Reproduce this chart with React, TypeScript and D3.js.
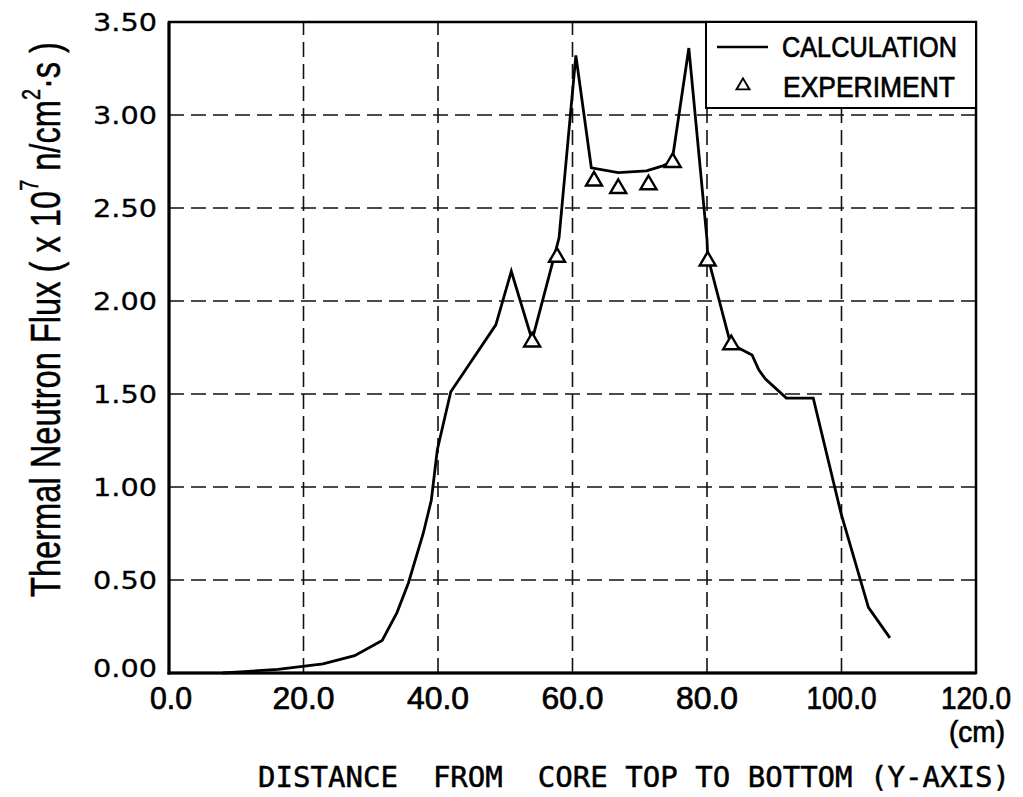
import React from "react";
import * as d3 from "d3";

const calcX = [8, 10, 16.2, 22.9, 27.6, 31.7, 33.9, 35.6, 37.8, 39.0, 39.9, 41.9, 48.6, 50.9, 54.0, 57.5, 58.0, 60.5, 62.8, 66.8, 71.0, 73.3, 74.8, 77.3, 80.0, 80.1, 83.5, 86.7, 87.7, 88.7, 91.8, 95.8, 99.95, 104.0, 107.2];
const calcY = [0.0, 0.005, 0.019, 0.049, 0.093, 0.175, 0.325, 0.484, 0.75, 0.928, 1.2, 1.512, 1.872, 2.16, 1.79, 2.27, 2.34, 3.32, 2.716, 2.69, 2.70, 2.725, 2.75, 3.36, 2.33, 2.24, 1.77, 1.71, 1.63, 1.58, 1.478, 1.478, 0.855, 0.353, 0.189];

const expX = [54.0, 57.7, 63.2, 66.8, 71.3, 74.9, 80.1, 83.6];
const expY = [1.785, 2.24, 2.65, 2.61, 2.63, 2.75, 2.22, 1.77];

const xTicks = [0, 20, 40, 60, 80, 100, 120];
const xTickLabels = ["0.0", "20.0", "40.0", "60.0", "80.0", "100.0", "120.0"];
const yTicks = [0, 0.5, 1.0, 1.5, 2.0, 2.5, 3.0, 3.5];
const yTickLabels = ["0.00", "0.50", "1.00", "1.50", "2.00", "2.50", "3.00", "3.50"];

const legendLabels = ["CALCULATION", "EXPERIMENT"];
const xTitle = "DISTANCE  FROM  CORE TOP TO BOTTOM (Y-AXIS)";

export default function App() {
  const W = 1023, H = 797;
  const x = d3.scaleLinear().domain([0, 120]).range([169, 976]);
  const y = d3.scaleLinear().domain([0, 3.5]).range([673, 22]);
  const pts: [number, number][] = calcX.map((v, i) => [v, calcY[i]]);
  const line = d3.line<[number, number]>().x(d => x(d[0])).y(d => y(d[1]));
  const tri = (cx: number, cy: number, s: number) => {
    const h = s * 0.85;
    return `M${cx},${cy - h * 0.6} L${cx + s / 2},${cy + h * 0.4} L${cx - s / 2},${cy + h * 0.4} Z`;
  };
  const xLabelWidth = (s: string) => (s.length === 3 ? 42 : s.length === 4 ? 62 : 70);
  const titleFont = "'Liberation Sans', Arial, sans-serif";
  const monoFont = "'DejaVu Sans Mono', 'Liberation Mono', monospace";
  const ts = { stroke: "#000", strokeWidth: 0.7 };

  return (
    <svg width={W} height={H} style={{ position: "absolute", left: 0, top: 0, background: "#fff" }}>
      <rect x={0} y={0} width={W} height={H} fill="#fff" />
      {/* grid */}
      {xTicks.slice(1, -1).map(t => (
        <line key={"gx" + t} x1={x(t)} x2={x(t)} y1={y(0)} y2={y(3.5)} stroke="#111" strokeWidth={1.6} strokeDasharray="15 7" />
      ))}
      {yTicks.slice(1, -1).map(t => (
        <line key={"gy" + t} x1={x(0)} x2={x(120)} y1={y(t)} y2={y(t)} stroke="#111" strokeWidth={1.6} strokeDasharray="15 7" />
      ))}
      {/* frame */}
      <rect x={x(0)} y={y(3.5)} width={x(120) - x(0)} height={y(0) - y(3.5)} fill="none" stroke="#000" strokeWidth={2.5} />
      <line x1={x(0)} x2={x(0)} y1={y(0) + 1.5} y2={y(3.5)} stroke="#000" strokeWidth={3} />
      <line x1={x(0) - 1.5} x2={x(120)} y1={y(0)} y2={y(0)} stroke="#000" strokeWidth={3} />
      {/* data */}
      <path d={line(pts) || ""} fill="none" stroke="#000" strokeWidth={2.8} strokeLinejoin="miter" />
      {expX.map((v, i) => (
        <path key={"e" + i} d={tri(x(v), y(expY[i]), 16)} fill="#fff" stroke="#000" strokeWidth={2.4} />
      ))}
      {/* legend */}
      <rect x={706} y={y(3.5)} width={x(120) - 706} height={86} fill="#fff" stroke="#000" strokeWidth={2} />
      <line x1={717} x2={768} y1={47} y2={47} stroke="#000" strokeWidth={2.6} />
      <path d={tri(743, 85, 13)} fill="#fff" stroke="#000" strokeWidth={1.9} />
      <text x={782} y={57} fontFamily={titleFont} fontSize={29} textLength={175} lengthAdjust="spacingAndGlyphs" fill="#000" {...ts}>{legendLabels[0]}</text>
      <text x={783} y={97} fontFamily={titleFont} fontSize={29} textLength={172} lengthAdjust="spacingAndGlyphs" fill="#000" {...ts}>{legendLabels[1]}</text>
      {/* y tick labels */}
      {yTicks.map((t, i) => (
        <text key={"yl" + t} x={157} y={y(t) + (t === 0 ? 4 : 9)} textAnchor="end" fontFamily="'DejaVu Sans', sans-serif" fontSize={25} textLength={64} lengthAdjust="spacingAndGlyphs" fill="#000" stroke="#000" strokeWidth={0.3}>{yTickLabels[i]}</text>
      ))}
      {/* x tick labels */}
      {xTicks.map((t, i) => (
        <text key={"xl" + t} x={x(t) + (t === 0 ? 2 : 0)} y={709} textAnchor="middle" fontFamily={titleFont} fontSize={31} textLength={xLabelWidth(xTickLabels[i])} lengthAdjust="spacingAndGlyphs" fill="#000" {...ts}>{xTickLabels[i]}</text>
      ))}
      <text x={1005} y={742} textAnchor="end" fontFamily={titleFont} fontSize={29} textLength={56} lengthAdjust="spacingAndGlyphs" fill="#000" {...ts}>(cm)</text>
      {/* x title */}
      <text x={258} y={787} fontFamily={monoFont} fontSize={29} textLength={752} lengthAdjust="spacingAndGlyphs" fill="#000" stroke="#000" strokeWidth={0.5} style={{ whiteSpace: "pre" }}>{xTitle}</text>
      {/* y title */}
      <text transform="translate(60,597) rotate(-90)" fontFamily={titleFont} fontSize={43} textLength={555} lengthAdjust="spacingAndGlyphs" fill="#000" style={{ whiteSpace: "pre" }} stroke="#000" strokeWidth={0.5}>
        <tspan>Thermal Neutron Flux ( x 10</tspan>
        <tspan fontSize={26} dy={-22}>7</tspan>
        <tspan dy={22}> n/cm</tspan>
        <tspan fontSize={26} dy={-20}>2</tspan>
        <tspan dy={20}>·s )</tspan>
      </text>
    </svg>
  );
}
